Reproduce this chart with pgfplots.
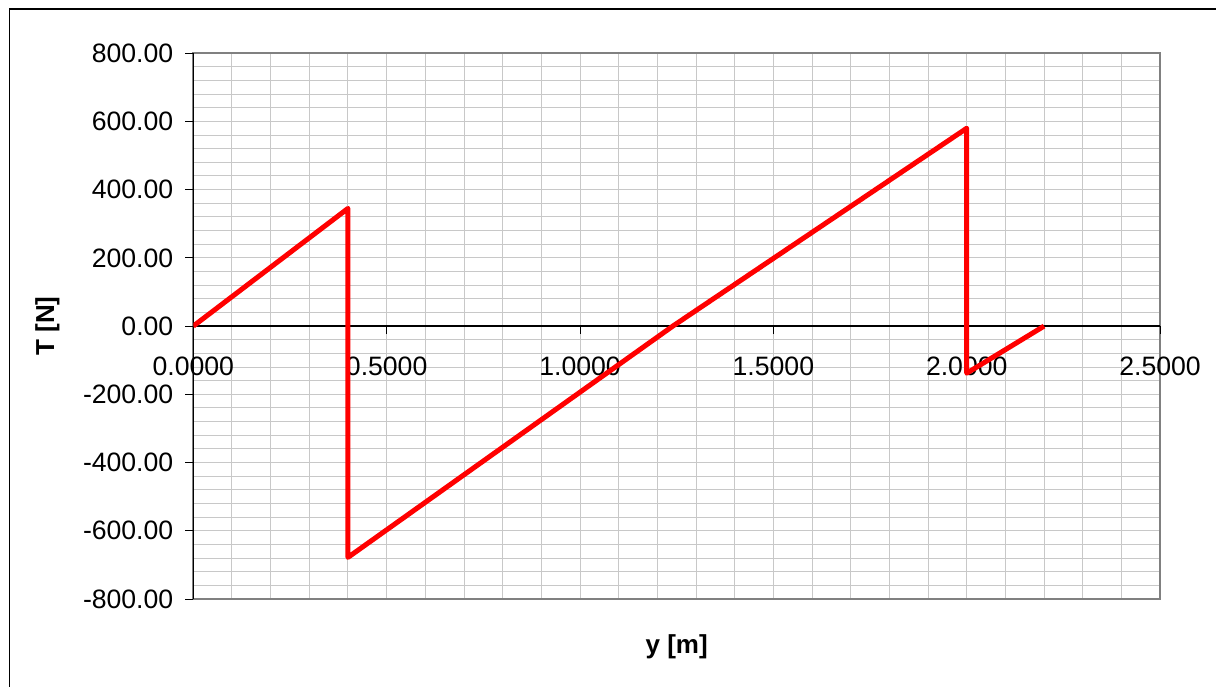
\documentclass[border=0pt]{standalone}
\usepackage{fontspec}
\setmainfont{Liberation Sans}
\usepackage{pgfplots}
\pgfplotsset{compat=1.18}

\definecolor{gridgray}{RGB}{200,200,200}
\definecolor{boxgray}{RGB}{128,128,128}

\pgfplotsset{
  common/.style={
    scale only axis, width=483.4pt, height=272.9pt,
    at={(96.65pt,43.5pt)}, anchor=south west,
    xmin=0, xmax=2.5, ymin=-800, ymax=800,
    xtick={0,0.5,1,1.5,2,2.5},
    ytick={-800,-600,-400,-200,0,200,400,600,800},
  }
}

\begin{document}
\begin{tikzpicture}
\path[use as bounding box] (0,0) rectangle (608pt,343pt);
\draw[line width=0.8pt] (4.75pt,-5pt) -- (4.75pt,338.6pt) -- (615pt,338.6pt);

% background: grid and gray box
\begin{axis}[common,
    minor x tick num=4, minor y tick num=4,
    grid=both, grid style={gridgray, line width=0.5pt},
    xticklabels={}, yticklabels={},
    major tick length=0pt, minor tick length=0pt,
    axis line style={boxgray, line width=1pt},
]
\end{axis}

% axes through zero and on the left, with the data
\begin{axis}[common,
    axis x line=middle, axis y line=left,
    axis line style={black, line width=0.6pt, -},
    tick align=outside, major tick length=4pt,
    tick style={black, line width=0.5pt},
    hide obscured x ticks=false, hide obscured y ticks=false,
    tick label style={font=\fontsize{13.3}{15}\selectfont},
    xticklabel style={/pgf/number format/assume math mode=true,
      /pgf/number format/fixed, /pgf/number format/fixed zerofill,
      /pgf/number format/precision=4, yshift=-8pt},
    yticklabel style={/pgf/number format/assume math mode=true,
      /pgf/number format/fixed, /pgf/number format/fixed zerofill,
      /pgf/number format/precision=2, xshift=-2.5pt},
    xlabel={y [m]}, ylabel={T [N]},
    label style={font=\fontsize{13}{15}\selectfont\bfseries},
    xlabel style={at={(axis description cs:0.5,-0.088)}, anchor=center},
    ylabel style={at={(axis description cs:-0.151,0.5)}, anchor=center},
]
\addplot[red, line width=2.5pt, line join=round] table {
x y
0.00 0
0.40 345
0.40 -678
1.24 0
2.00 580
2.00 -138
2.20 0
};
\end{axis}
\end{tikzpicture}
\end{document}
